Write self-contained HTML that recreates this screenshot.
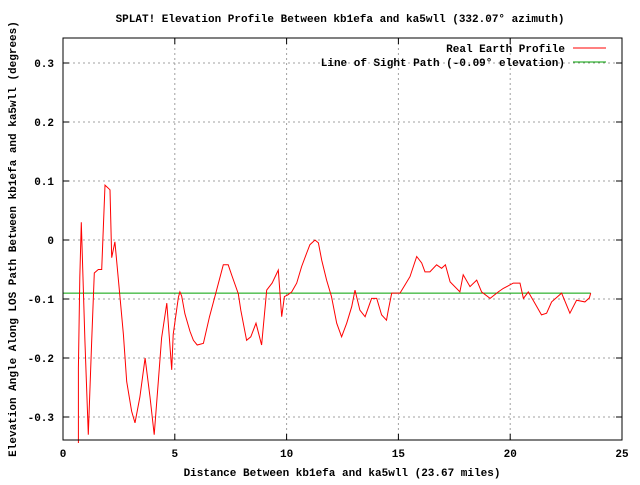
<!DOCTYPE html>
<html><head><meta charset="utf-8"><style>
body{margin:0;background:#fff}
svg text{font-family:"Liberation Mono","DejaVu Sans Mono",monospace;font-size:11px;font-weight:bold;fill:#000}
</style></head><body>
<svg id="chart" width="640" height="480" xmlns="http://www.w3.org/2000/svg">
<rect width="640" height="480" fill="#fff"/>
<text x="340" y="22" text-anchor="middle">SPLAT! Elevation Profile Between kb1efa and ka5wll (332.07° azimuth)</text>
<text x="342" y="476" text-anchor="middle">Distance Between kb1efa and ka5wll (23.67 miles)</text>
<text x="16" y="239" text-anchor="middle" transform="rotate(-90 16 239)">Elevation Angle Along LOS Path Between kb1efa and ka5wll (degrees)</text>
<g id="grid"></g><g id="ticks"></g><g id="series"></g>
<rect x="63" y="38" width="559" height="402" fill="none" stroke="#000" stroke-width="1"/>
<g>
<text x="565" y="52" text-anchor="end">Real Earth Profile</text>
<line x1="573" y1="48" x2="606" y2="48" stroke="#f00"/>
<text x="565" y="66" text-anchor="end">Line of Sight Path (-0.09° elevation)</text>
<line x1="573" y1="62" x2="606" y2="62" stroke="#00a000"/>
</g>
</svg>
<script>
const distances=[0.69,0.69,0.75,0.82,0.98,1.13,1.28,1.40,1.58,1.73,1.88,2.10,2.18,2.32,2.55,2.70,2.85,3.07,3.22,3.44,3.67,3.89,4.08,4.26,4.41,4.64,4.86,4.93,5.16,5.23,5.31,5.45,5.68,5.83,6.00,6.28,6.55,6.87,7.17,7.39,7.55,7.84,7.95,8.21,8.40,8.63,8.88,9.11,9.35,9.63,9.78,9.90,10.05,10.23,10.45,10.67,10.90,11.04,11.27,11.42,11.57,11.79,12.01,12.24,12.46,12.69,12.91,13.06,13.28,13.51,13.80,14.03,14.25,14.47,14.55,14.70,15.07,15.30,15.52,15.82,16.04,16.19,16.41,16.71,16.93,17.10,17.31,17.75,17.90,18.20,18.50,18.72,19.10,19.47,19.69,20.14,20.44,20.59,20.81,21.10,21.40,21.63,21.85,22.30,22.67,22.97,23.34,23.54,23.60];
const elevations=[-0.344,-0.217,-0.064,0.030,-0.170,-0.330,-0.175,-0.056,-0.050,-0.050,0.093,0.085,-0.030,-0.003,-0.097,-0.160,-0.240,-0.290,-0.310,-0.266,-0.200,-0.266,-0.330,-0.240,-0.166,-0.107,-0.220,-0.160,-0.097,-0.088,-0.095,-0.125,-0.155,-0.170,-0.178,-0.175,-0.130,-0.085,-0.042,-0.042,-0.060,-0.091,-0.119,-0.170,-0.164,-0.141,-0.178,-0.085,-0.073,-0.051,-0.130,-0.096,-0.093,-0.088,-0.073,-0.045,-0.022,-0.008,0.000,-0.005,-0.034,-0.068,-0.096,-0.141,-0.164,-0.141,-0.113,-0.085,-0.119,-0.130,-0.099,-0.099,-0.127,-0.136,-0.119,-0.090,-0.090,-0.076,-0.062,-0.028,-0.039,-0.054,-0.054,-0.042,-0.048,-0.042,-0.071,-0.088,-0.059,-0.079,-0.068,-0.088,-0.099,-0.088,-0.082,-0.073,-0.073,-0.099,-0.088,-0.107,-0.127,-0.124,-0.105,-0.090,-0.124,-0.102,-0.105,-0.098,-0.090];
const losAngle=-0.09;
const losRange=[0,23.6];
const xTicks=[0,5,10,15,20,25];
const yTicks=[-0.3,-0.2,-0.1,0,0.1,0.2,0.3];
const yTickLabels=["-0.3","-0.2","-0.1","0","0.1","0.2","0.3"];
const NS="http://www.w3.org/2000/svg";
const X=v=>63+v*(559/25);
const Y=v=>240-v*590;
function mk(tag,attrs,parent){const e=document.createElementNS(NS,tag);for(const k in attrs)e.setAttribute(k,attrs[k]);parent.appendChild(e);return e;}
const grid=document.getElementById('grid'),ticks=document.getElementById('ticks'),series=document.getElementById('series');
xTicks.forEach(t=>{
  const x=X(t);
  if(t>0&&t<25){const g=mk('line',{x1:x,y1:38,x2:x,y2:440,stroke:'#a0a0a0','stroke-dasharray':'2,3'},grid);
  }
  mk('line',{x1:x,y1:440,x2:x,y2:434,stroke:'#000'},ticks);
  mk('line',{x1:x,y1:38,x2:x,y2:44,stroke:'#000'},ticks);
  const l=mk('text',{x:x,y:457,'text-anchor':'middle'},ticks);l.textContent=t;
  
});
yTicks.forEach((t,i)=>{
  const y=Y(t);
  const g=mk('line',{x1:63,y1:y,x2:622,y2:y,stroke:'#a0a0a0','stroke-dasharray':'2,3'},grid);
  
  mk('line',{x1:63,y1:y,x2:69,y2:y,stroke:'#000'},ticks);
  mk('line',{x1:622,y1:y,x2:616,y2:y,stroke:'#000'},ticks);
  const l=mk('text',{x:54,y:y+4,'text-anchor':'end'},ticks);l.textContent=yTickLabels[i];
  
});
const los=mk('line',{x1:X(losRange[0]),y1:Y(losAngle),x2:X(losRange[1]),y2:Y(losAngle),stroke:'#00a000'},series);


const pts=distances.map((d,i)=>X(d).toFixed(1)+','+Y(elevations[i]).toFixed(1)).join(' ');
const prof=mk('polyline',{points:pts,fill:'none',stroke:'#f00','stroke-width':1},series);


</script>
</body></html>
